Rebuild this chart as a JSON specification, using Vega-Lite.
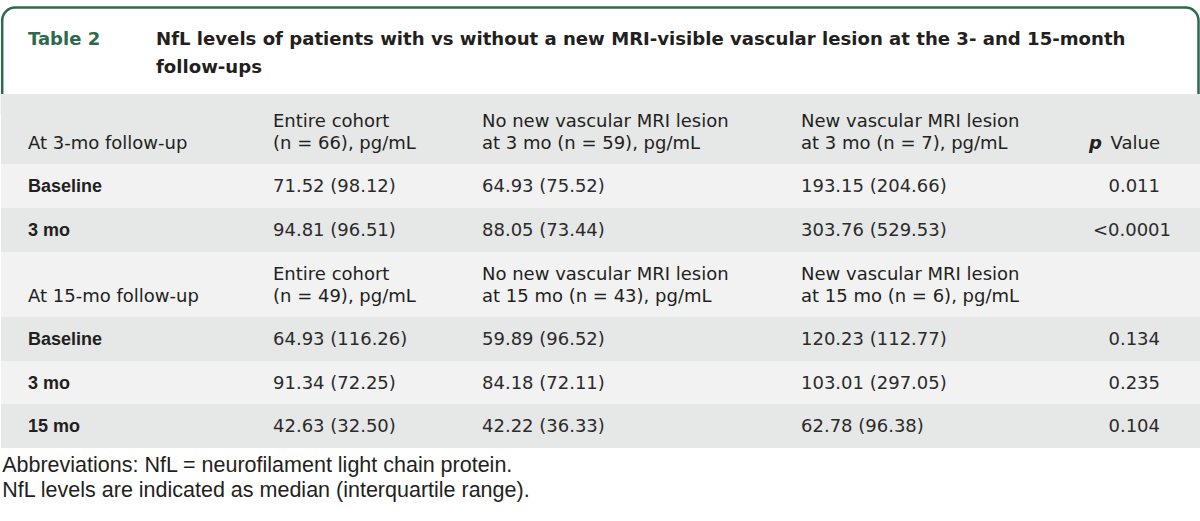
{
  "$schema": "https://vega.github.io/schema/vega-lite/v6.json",
  "width": 1200,
  "height": 521,
  "padding": 0,
  "autosize": {"type": "fit", "contains": "padding"},
  "background": "#ffffff",
  "config": {"view": {"stroke": null}},
  "datasets": {
    "rows": [
      {"r": 0, "kind": "title"},
      {"r": 1, "kind": "header"},
      {"r": 4, "kind": "header"},
      {"r": 2, "kind": "data"},
      {"r": 3, "kind": "data"},
      {"r": 5, "kind": "data"},
      {"r": 6, "kind": "data"},
      {"r": 7, "kind": "data"}
    ],
    "cells": [
      {"r": 0, "c": 0, "role": "tag", "t": "Table 2"},
      {"r": 0, "c": 0, "role": "title", "t": "NfL levels of patients with vs without a new MRI-visible vascular lesion at the 3- and 15-month\nfollow-ups"},
      {"r": 1, "c": 0, "role": "header1", "t": "At 3-mo follow-up"},
      {"r": 1, "c": 1, "role": "header2", "t": "Entire cohort\n(n = 66), pg/mL"},
      {"r": 1, "c": 2, "role": "header2", "t": "No new vascular MRI lesion\nat 3 mo (n = 59), pg/mL"},
      {"r": 1, "c": 3, "role": "header2", "t": "New vascular MRI lesion\nat 3 mo (n = 7), pg/mL"},
      {"r": 1, "c": 4, "role": "headerR", "t": "Value"},
      {"r": 1, "c": 4, "role": "pItalic", "t": "p"},
      {"r": 2, "c": 0, "role": "label", "t": "Baseline"},
      {"r": 2, "c": 1, "role": "value", "t": "71.52 (98.12)"},
      {"r": 2, "c": 2, "role": "value", "t": "64.93 (75.52)"},
      {"r": 2, "c": 3, "role": "value", "t": "193.15 (204.66)"},
      {"r": 2, "c": 4, "role": "p", "t": "0.011"},
      {"r": 3, "c": 0, "role": "label", "t": "3 mo"},
      {"r": 3, "c": 1, "role": "value", "t": "94.81 (96.51)"},
      {"r": 3, "c": 2, "role": "value", "t": "88.05 (73.44)"},
      {"r": 3, "c": 3, "role": "value", "t": "303.76 (529.53)"},
      {"r": 3, "c": 4, "role": "p", "t": "<0.0001"},
      {"r": 4, "c": 0, "role": "header1", "t": "At 15-mo follow-up"},
      {"r": 4, "c": 1, "role": "header2", "t": "Entire cohort\n(n = 49), pg/mL"},
      {"r": 4, "c": 2, "role": "header2", "t": "No new vascular MRI lesion\nat 15 mo (n = 43), pg/mL"},
      {"r": 4, "c": 3, "role": "header2", "t": "New vascular MRI lesion\nat 15 mo (n = 6), pg/mL"},
      {"r": 5, "c": 0, "role": "label", "t": "Baseline"},
      {"r": 5, "c": 1, "role": "value", "t": "64.93 (116.26)"},
      {"r": 5, "c": 2, "role": "value", "t": "59.89 (96.52)"},
      {"r": 5, "c": 3, "role": "value", "t": "120.23 (112.77)"},
      {"r": 5, "c": 4, "role": "p", "t": "0.134"},
      {"r": 6, "c": 0, "role": "label", "t": "3 mo"},
      {"r": 6, "c": 1, "role": "value", "t": "91.34 (72.25)"},
      {"r": 6, "c": 2, "role": "value", "t": "84.18 (72.11)"},
      {"r": 6, "c": 3, "role": "value", "t": "103.01 (297.05)"},
      {"r": 6, "c": 4, "role": "p", "t": "0.235"},
      {"r": 7, "c": 0, "role": "label", "t": "15 mo"},
      {"r": 7, "c": 1, "role": "value", "t": "42.63 (32.50)"},
      {"r": 7, "c": 2, "role": "value", "t": "42.22 (36.33)"},
      {"r": 7, "c": 3, "role": "value", "t": "62.78 (96.38)"},
      {"r": 7, "c": 4, "role": "p", "t": "0.104"},
      {"r": 8, "c": -1, "role": "foot", "t": "Abbreviations: NfL = neurofilament light chain protein."},
      {"r": 9, "c": -1, "role": "foot", "t": "NfL levels are indicated as median (interquartile range)."}
    ]
  },
  "resolve": {"scale": {"x": "shared", "y": "shared"}},
  "encoding": {
    "y": {"field": "r", "type": "quantitative", "axis": null,
      "scale": {"domain": [0, 1, 2, 3, 4, 5, 6, 7, 8, 9], "range": [61, 129, 186, 230, 282, 339, 383, 426, 465, 493], "nice": false, "zero": false}}
  },
  "layer": [
    {
      "data": {"name": "rows"},
      "transform": [{"filter": "datum.kind == 'title'"}],
      "mark": {"type": "bar", "height": 120, "fill": "#ffffff", "stroke": "#2d6a4b", "strokeWidth": 2.5, "cornerRadius": 13},
      "encoding": {
        "x": {"datum": -1, "type": "quantitative", "axis": null,
          "scale": {"domain": [-2, -1, 0, 1, 2, 3, 4, 5, 6], "range": [0, 1.2, 27, 272, 481, 800, 1159, 1197.5, 1200], "nice": false, "zero": false}},
        "x2": {"datum": 5}
      }
    },
    {
      "data": {"name": "rows"},
      "transform": [{"filter": "datum.kind == 'header'"}],
      "mark": {"type": "bar", "height": 70},
      "encoding": {
        "x": {"datum": -2, "type": "quantitative", "axis": null},
        "x2": {"datum": 6},
        "fill": {"field": "r", "type": "ordinal", "legend": null,
          "scale": {"domain": [1, 2, 3, 4, 5, 6, 7], "range": ["#e6e7e7", "#f2f2f2", "#e6e7e7", "#f2f2f2", "#e6e7e7", "#f2f2f2", "#e6e7e7"]}}
      }
    },
    {
      "data": {"name": "rows"},
      "transform": [{"filter": "datum.kind == 'data'"}],
      "mark": {"type": "bar", "height": 44},
      "encoding": {
        "x": {"datum": -2, "type": "quantitative", "axis": null},
        "x2": {"datum": 6},
        "fill": {"field": "r", "type": "ordinal", "legend": null}
      }
    },
    {
      "data": {"name": "cells"},
      "transform": [{"filter": "datum.role == 'tag'"}],
      "mark": {"type": "text", "align": "left", "baseline": "alphabetic", "dy": -23, "font": "DejaVu Sans", "fontWeight": "bold", "fontSize": 18, "fill": "#2d6a4b"},
      "encoding": {"x": {"field": "c", "type": "quantitative", "axis": null}, "text": {"field": "t"}}
    },
    {
      "data": {"name": "cells"},
      "transform": [{"filter": "datum.role == 'title'"}],
      "mark": {"type": "text", "align": "left", "baseline": "alphabetic", "dy": -23, "dx": 128, "lineBreak": "\n", "lineHeight": 28, "font": "DejaVu Sans", "fontWeight": "bold", "fontSize": 18.1, "fill": "#231f20"},
      "encoding": {"x": {"field": "c", "type": "quantitative", "axis": null}, "text": {"field": "t"}}
    },
    {
      "data": {"name": "cells"},
      "transform": [{"filter": "datum.role == 'header1'"}],
      "mark": {"type": "text", "align": "left", "baseline": "bottom", "dy": 24, "font": "DejaVu Sans", "fontSize": 18, "fill": "#231f20"},
      "encoding": {"x": {"field": "c", "type": "quantitative", "axis": null}, "text": {"field": "t"}}
    },
    {
      "data": {"name": "cells"},
      "transform": [{"filter": "datum.role == 'header2'"}],
      "mark": {"type": "text", "align": "left", "baseline": "bottom", "dy": 2, "lineBreak": "\n", "lineHeight": 22, "font": "DejaVu Sans", "fontSize": 18, "fill": "#231f20"},
      "encoding": {"x": {"field": "c", "type": "quantitative", "axis": null}, "text": {"field": "t"}}
    },
    {
      "data": {"name": "cells"},
      "transform": [{"filter": "datum.role == 'headerR'"}],
      "mark": {"type": "text", "align": "right", "baseline": "bottom", "dy": 24, "font": "DejaVu Sans", "fontSize": 18, "fill": "#231f20"},
      "encoding": {"x": {"field": "c", "type": "quantitative", "axis": null}, "text": {"field": "t"}}
    },
    {
      "data": {"name": "cells"},
      "transform": [{"filter": "datum.role == 'pItalic'"}],
      "mark": {"type": "text", "align": "right", "baseline": "bottom", "dy": 24, "dx": -58, "font": "DejaVu Sans", "fontStyle": "italic", "fontWeight": "bold", "fontSize": 18, "fill": "#231f20"},
      "encoding": {"x": {"field": "c", "type": "quantitative", "axis": null}, "text": {"field": "t"}}
    },
    {
      "data": {"name": "cells"},
      "transform": [{"filter": "datum.role == 'label'"}],
      "mark": {"type": "text", "align": "left", "baseline": "middle", "dy": 1, "font": "Liberation Sans", "fontWeight": "bold", "fontSize": 18, "fill": "#231f20"},
      "encoding": {"x": {"field": "c", "type": "quantitative", "axis": null}, "text": {"field": "t"}}
    },
    {
      "data": {"name": "cells"},
      "transform": [{"filter": "datum.role == 'value'"}],
      "mark": {"type": "text", "align": "left", "baseline": "middle", "dy": 1, "font": "DejaVu Sans", "fontSize": 18, "fill": "#2b2b2b"},
      "encoding": {"x": {"field": "c", "type": "quantitative", "axis": null}, "text": {"field": "t"}}
    },
    {
      "data": {"name": "cells"},
      "transform": [{"filter": "datum.role == 'p' && indexof(datum.t, '<') < 0"}],
      "mark": {"type": "text", "align": "right", "baseline": "middle", "dy": 1, "font": "DejaVu Sans", "fontSize": 18, "fill": "#2b2b2b"},
      "encoding": {"x": {"field": "c", "type": "quantitative", "axis": null}, "text": {"field": "t"}}
    },
    {
      "data": {"name": "cells"},
      "transform": [{"filter": "datum.role == 'p' && indexof(datum.t, '<') >= 0"}],
      "mark": {"type": "text", "align": "right", "baseline": "middle", "dy": 1, "dx": 11, "font": "DejaVu Sans", "fontSize": 18, "fill": "#2b2b2b"},
      "encoding": {"x": {"field": "c", "type": "quantitative", "axis": null}, "text": {"field": "t"}}
    },
    {
      "data": {"name": "cells"},
      "transform": [{"filter": "datum.role == 'foot'"}],
      "mark": {"type": "text", "align": "left", "baseline": "middle", "dy": 1, "font": "Liberation Sans", "fontSize": 21.5, "fill": "#231f20"},
      "encoding": {"x": {"field": "c", "type": "quantitative", "axis": null}, "text": {"field": "t"}}
    }
  ]
}
